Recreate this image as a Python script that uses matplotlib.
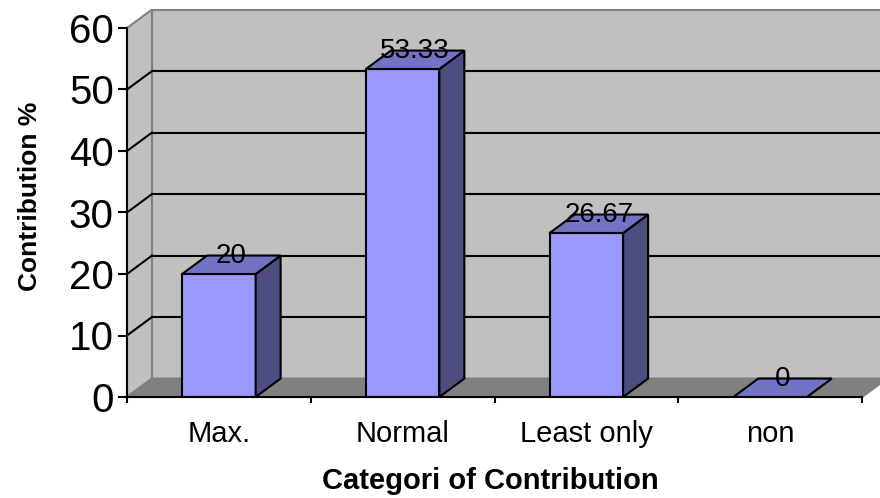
import matplotlib
matplotlib.use('Agg')
import matplotlib.pyplot as plt
from matplotlib.patches import Polygon, Rectangle

categories = ['Max.', 'Normal', 'Least only', 'non']
contribution = [20, 53.33, 26.67, 0]
y_ticks = [0, 10, 20, 30, 40, 50, 60]

# depth of the 3-D box: x in category units, y in percent
DX, DY = 0.136, 3.0
BAR_W = 0.4
YMAX = 60

WALL = '#c0c0c0'
FLOOR = '#808080'
EDGE = '#808080'
FRONT = '#9999ff'
TOP = '#7373c6'
SIDE = '#4d4d80'

plt.rcParams['font.family'] = ['Liberation Sans', 'DejaVu Sans']

fig = plt.figure(figsize=(8.8, 4.98), dpi=100)
ax = fig.add_axes([127 / 880, 101 / 498, 735 / 880, 369 / 498])
n = len(categories)
ax.set_xlim(0, n)
ax.set_ylim(0, YMAX)

# walls and floor
ax.add_patch(Rectangle((DX, DY), n, YMAX, fc=WALL, ec=EDGE, lw=1.5, clip_on=False, zorder=0))
ax.add_patch(Polygon([(0, 0), (DX, DY), (DX, YMAX + DY), (0, YMAX)],
                     fc=WALL, ec=EDGE, lw=1.5, clip_on=False, zorder=0))
ax.add_patch(Polygon([(0, 0), (n, 0), (n + DX, DY), (DX, DY)],
                     fc=FLOOR, ec=EDGE, lw=1.5, clip_on=False, zorder=1))

# gridlines on back and side walls
for v in y_ticks[1:-1]:
    ax.plot([DX, n + DX], [v + DY, v + DY], color='k', lw=1.5, clip_on=False, zorder=2)
    ax.plot([0, DX], [v, v + DY], color='k', lw=1.5, clip_on=False, zorder=2)

# 3-D columns
for i, v in enumerate(contribution):
    c = i + 0.5
    x0, x1 = c - BAR_W / 2, c + BAR_W / 2
    if v > 0:
        ax.add_patch(Rectangle((x0, 0), BAR_W, v, fc=FRONT, ec='k', lw=1.5, zorder=3))
        ax.add_patch(Polygon([(x1, 0), (x1 + DX, DY), (x1 + DX, v + DY), (x1, v)],
                             fc=SIDE, ec='k', lw=1.5, zorder=3))
    ax.add_patch(Polygon([(x0, v), (x1, v), (x1 + DX, v + DY), (x0 + DX, v + DY)],
                         fc=TOP, ec='k', lw=1.5, zorder=3))
    ax.text(c + DX / 2, v + DY, f'{v:g}', ha='center', va='center', fontsize=20, zorder=5)

for side in ['top', 'right']:
    ax.spines[side].set_visible(False)
for side in ['left', 'bottom']:
    ax.spines[side].set_linewidth(1.5)
    ax.spines[side].set_zorder(4)

ax.set_yticks(y_ticks)
ax.tick_params(axis='y', labelsize=29, length=6.5, width=1.5, pad=3)
ax.set_xticks(range(n + 1))
ax.set_xticklabels([])
ax.tick_params(axis='x', which='major', length=4.5, width=1.5)
ax.set_xticks([i + 0.5 for i in range(n)], minor=True)
ax.set_xticklabels(categories, minor=True)
ax.tick_params(axis='x', which='minor', length=0, labelsize=21, pad=16.5)

ax.set_xlabel('Categori of Contribution', fontsize=21, fontweight='bold')
ax.set_ylabel('Contribution %', fontsize=19, fontweight='bold')
ax.xaxis.set_label_coords(0.494, -0.191)
ax.yaxis.set_label_coords(-0.115, 0.545)

fig.savefig('out.png', dpi=100)
